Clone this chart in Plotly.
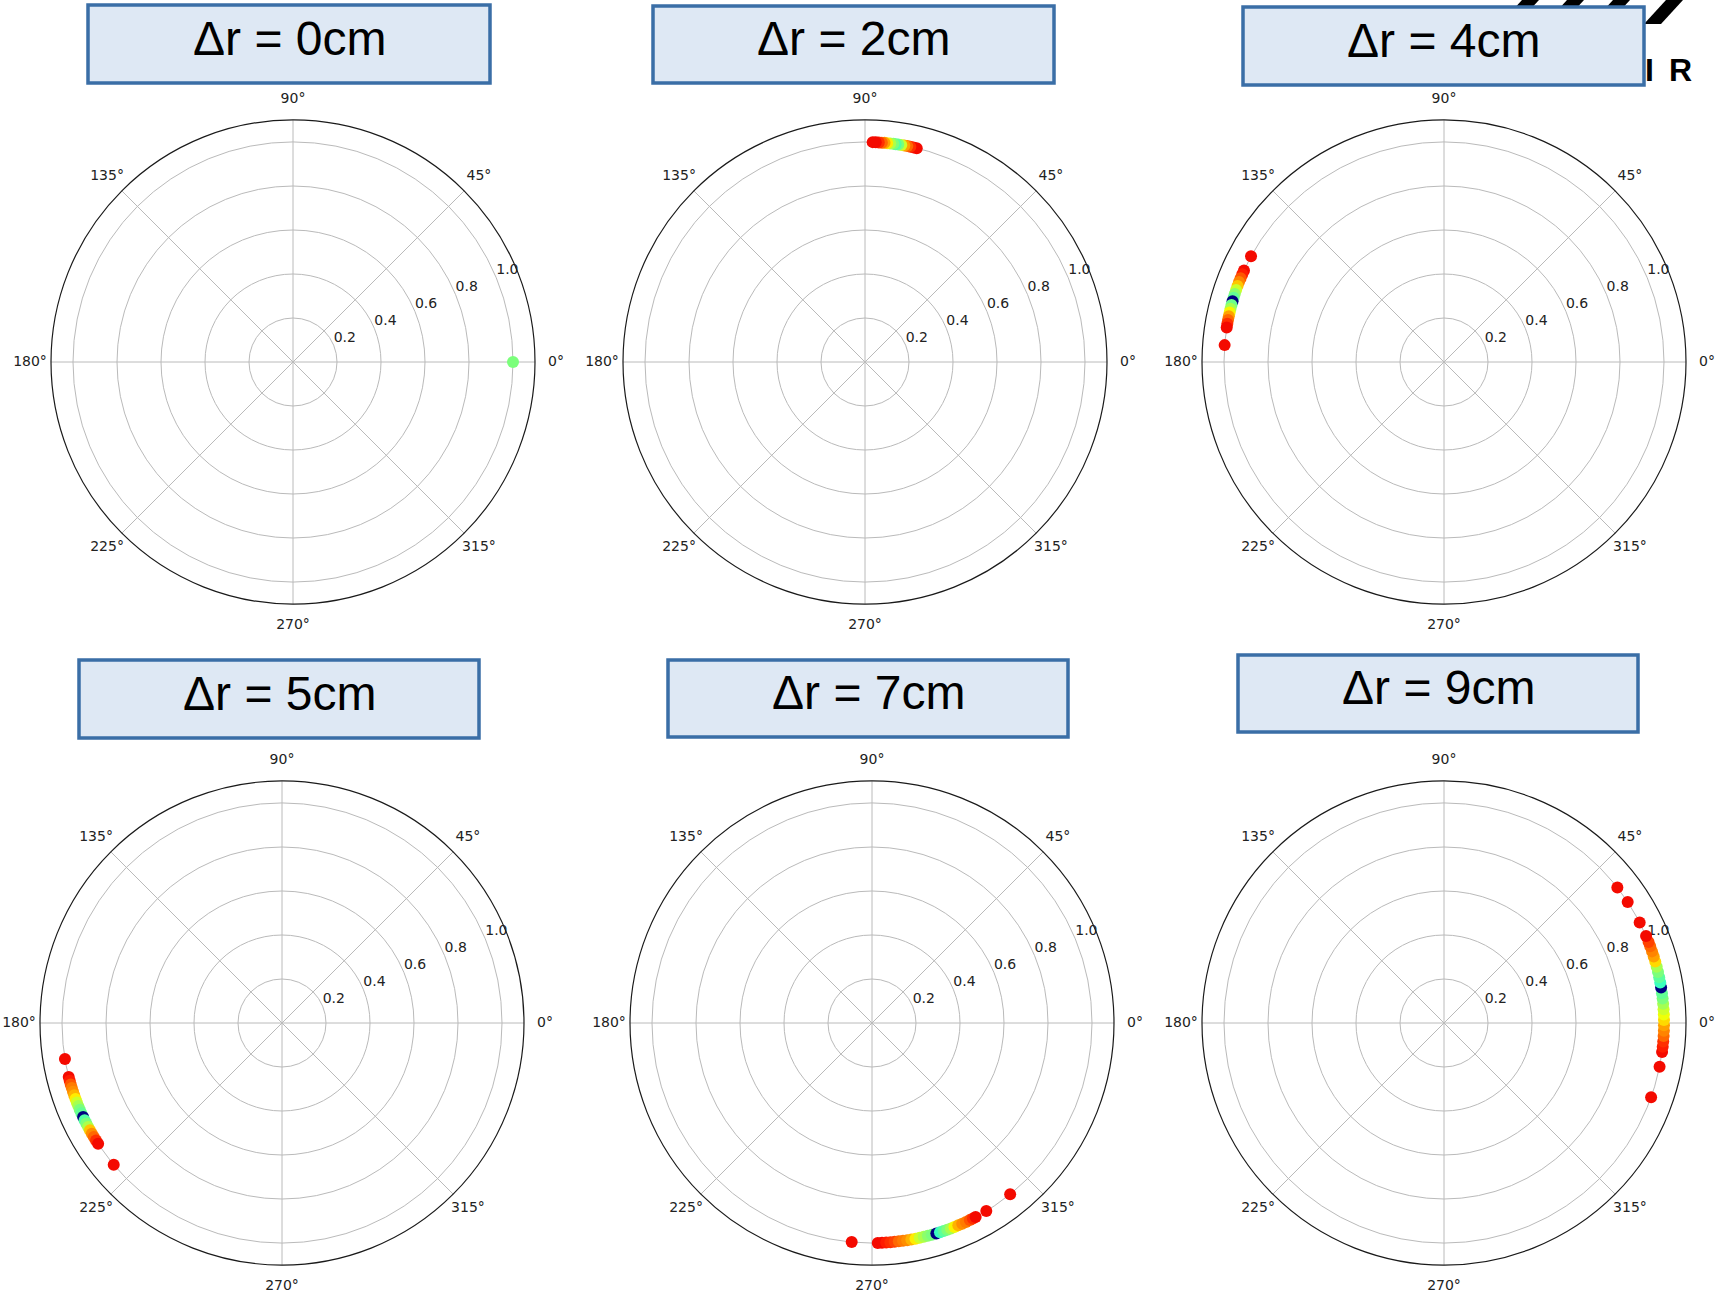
import numpy as np
import plotly.graph_objects as go

# ---------------------------------------------------------------- data
panel_titles = ["Δr = 0cm", "Δr = 2cm", "Δr = 4cm", "Δr = 5cm", "Δr = 7cm", "Δr = 9cm"]

# all estimates lie on the unit circle
RADIUS = 1.0

# direction estimates (degrees) and their colour level (jet position), in drawing order
theta_0cm = [0.0]
level_0cm = [0.5]

theta_2cm = [76.4, 77.3, 78.1, 78.9, 79.7, 80.5, 81.3, 82.0, 82.6, 83.4, 84.2, 84.9, 85.6, 86.4, 87.2, 88.0]
level_2cm = [0.9, 0.9, 0.86, 0.8, 0.74, 0.6, 0.5, 0.45, 0.5, 0.56, 0.66, 0.74, 0.8, 0.86, 0.9, 0.9]

theta_4cm = [151.3, 155.4, 156.5, 157.6, 158.7, 159.8, 160.9, 162.0, 163.0, 164.0,
             165.0, 166.0, 167.0, 168.0, 169.0, 170.0, 171.0, 175.6]
level_4cm = [0.9, 0.9, 0.88, 0.82, 0.77, 0.7, 0.6, 0.52, 0.47, 0.0,
             0.48, 0.55, 0.65, 0.74, 0.8, 0.86, 0.9, 0.9]

theta_5cm = [189.4, 194.2, 195.2, 196.2, 197.2, 198.2, 199.2, 200.2, 201.2, 202.2, 203.2,
             204.2, 205.3, 206.2, 207.2, 208.2, 209.2, 210.2, 211.2, 212.3, 213.3, 220.1]
level_5cm = [0.9, 0.9, 0.88, 0.82, 0.78, 0.76, 0.72, 0.66, 0.6, 0.55, 0.5,
             0.47, 0.0, 0.45, 0.5, 0.56, 0.7, 0.76, 0.8, 0.86, 0.9, 0.9]

theta_7cm = [264.7, 271.5, 272.6, 273.7, 274.8, 275.9, 277.0, 278.1, 279.2, 280.3, 281.4,
             282.5, 283.6, 284.7, 285.8, 287.0, 288.0, 289.0, 290.0, 291.0, 292.0, 293.1,
             294.2, 295.3, 296.4, 297.3, 298.1, 301.3, 308.9]
level_7cm = [0.9, 0.9, 0.9, 0.88, 0.86, 0.84, 0.8, 0.78, 0.76, 0.72, 0.66,
             0.6, 0.56, 0.52, 0.5, 0.0, 0.42, 0.46, 0.5, 0.55, 0.65, 0.72,
             0.76, 0.78, 0.82, 0.86, 0.9, 0.9, 0.9]

theta_9cm = [-19.7, -11.5, -7.6, -6.2, -4.8, -3.4, -2.0, -0.6, 0.8, 2.2, 3.6, 5.0, 6.4, 7.8,
             9.3, 10.6, 12.0, 13.4, 14.8, 16.2, 17.6, 19.0, 20.4, 21.6, 23.3, 27.2, 33.4, 38.0]
level_9cm = [0.9, 0.9, 0.9, 0.88, 0.86, 0.8, 0.77, 0.74, 0.68, 0.64, 0.6, 0.55, 0.5, 0.47,
             0.0, 0.42, 0.46, 0.5, 0.55, 0.68, 0.74, 0.77, 0.8, 0.84, 0.9, 0.9, 0.9, 0.9]

thetas = [theta_0cm, theta_2cm, theta_4cm, theta_5cm, theta_7cm, theta_9cm]
levels = [level_0cm, level_2cm, level_4cm, level_5cm, level_7cm, level_9cm]

r_ticks = [0.2, 0.4, 0.6, 0.8, 1.0]
r_ticklabels = ["0.2", "0.4", "0.6", "0.8", "1.0"]
r_label_angle = 22.5
angle_ticks = [0, 45, 90, 135, 180, 225, 270, 315]
angle_ticklabels = ["0°", "45°", "90°", "135°", "180°", "225°", "270°", "315°"]

# ---------------------------------------------------------------- layout geometry (pixels)
W, H = 1716, 1296
R_PX = 242          # radius of the polar frame
R_LABEL_PX = 263    # radius on which the angle labels are centred
R_MAX = 1.1
centers = [(293, 362), (865, 362), (1444, 362), (282, 1023), (872, 1023), (1444, 1023)]
boxes = [(88, 5, 490, 83), (653, 6, 1054, 83), (1243, 7, 1644, 85),
         (79, 660, 479, 738), (668, 660, 1068, 737), (1238, 655, 1638, 732)]


def px(x):
    return x / W


def py(y):
    return 1 - y / H


def domain(cx, cy, rad):
    return dict(x=[px(cx - rad), px(cx + rad)], y=[py(cy + rad), py(cy - rad)])


# matplotlib-style jet colour map
def jet_rgb(t):
    r = np.interp(t, [0, 0.35, 0.66, 0.89, 1.0], [0, 0, 1, 1, 0.5])
    g = np.interp(t, [0, 0.125, 0.375, 0.64, 0.91, 1.0], [0, 0, 1, 1, 0, 0])
    b = np.interp(t, [0, 0.11, 0.34, 0.65, 1.0], [0.5, 1, 1, 0, 0])
    return "rgb(%d,%d,%d)" % (round(r * 255), round(g * 255), round(b * 255))


jet_stops = [0, 0.11, 0.125, 0.34, 0.35, 0.375, 0.5, 0.64, 0.65, 0.66, 0.89, 0.91, 1.0]
JET = [[s, jet_rgb(s)] for s in jet_stops]

tick_font = dict(family="DejaVu Sans, Liberation Sans, sans-serif", size=14, color="#222222")
grid_color = "#bababa"

fig = go.Figure()
layout = dict(
    width=W, height=H,
    margin=dict(l=0, r=0, t=0, b=0),
    paper_bgcolor="white",
    plot_bgcolor="white",
    showlegend=False,
)

hidden_radial = dict(range=[0, 1], visible=False, showgrid=False, showline=False,
                     showticklabels=False, ticks="")
hidden_angular = dict(direction="counterclockwise", rotation=0, showgrid=False,
                      showline=False, showticklabels=False, ticks="")

for i, (cx, cy) in enumerate(centers):
    name = "polar" if i == 0 else "polar%d" % (i + 1)
    label_name = "polar%d" % (i + 7)
    layout[name] = dict(
        domain=domain(cx, cy, R_PX),
        bgcolor="white",
        radialaxis=dict(
            range=[0, R_MAX], tickvals=r_ticks, angle=r_label_angle,
            showline=False, ticks="", showticklabels=False,
            gridcolor=grid_color, gridwidth=1,
        ),
        angularaxis=dict(
            tickvals=angle_ticks, direction="counterclockwise", rotation=0,
            showline=True, linecolor="#1a1a1a", linewidth=1.2,
            gridcolor=grid_color, gridwidth=1, ticks="", showticklabels=False,
        ),
    )
    # transparent companion polar, slightly larger, carrying the centred angle labels
    layout[label_name] = dict(
        domain=domain(cx, cy, R_LABEL_PX),
        bgcolor="rgba(0,0,0,0)",
        radialaxis=hidden_radial,
        angularaxis=hidden_angular,
    )
    fig.add_trace(go.Scatterpolar(
        r=[1.0] * len(angle_ticks), theta=angle_ticks, mode="text",
        text=angle_ticklabels, textposition="middle center", textfont=tick_font,
        cliponaxis=False, subplot=label_name, hoverinfo="skip",
    ))
    # radial tick labels, horizontal, just beside each ring along the label ray
    fig.add_trace(go.Scatterpolar(
        r=r_ticks, theta=[r_label_angle] * len(r_ticks), mode="text",
        text=r_ticklabels, textposition="top right", textfont=tick_font,
        subplot=name, hoverinfo="skip",
    ))
    th = thetas[i]
    fig.add_trace(go.Scatterpolar(
        r=[RADIUS] * len(th), theta=th, mode="markers",
        marker=dict(size=12, color=levels[i], colorscale=JET, cmin=0, cmax=1,
                    line=dict(width=0)),
        subplot=name, hoverinfo="skip",
    ))

shapes = []
# logo fragment in the top-right corner (slanted bars)
for t in [1522, 1567, 1613, 1666]:
    pts = [(t - 22, 24), (t - 5, 24), (t + 17, 0), (t, 0)]
    path = "M " + " L ".join("%f,%f" % (px(x), py(y)) for x, y in pts) + " Z"
    shapes.append(dict(type="path", xref="paper", yref="paper", path=path,
                       fillcolor="black", line=dict(width=0), layer="above"))

logo_font = dict(family="Liberation Sans, Arial, sans-serif", size=32, color="black")
annotations = [
    dict(text="<b>I</b>", x=px(1649), y=py(70), xref="paper", yref="paper",
         showarrow=False, xanchor="center", yanchor="middle", font=logo_font),
    dict(text="<b>R</b>", x=px(1680), y=py(70), xref="paper", yref="paper",
         showarrow=False, xanchor="center", yanchor="middle", font=logo_font),
]

# title boxes
for (x0, y0, x1, y1), title in zip(boxes, panel_titles):
    shapes.append(dict(type="rect", xref="paper", yref="paper",
                       x0=px(x0), x1=px(x1), y0=py(y1), y1=py(y0),
                       fillcolor="rgb(222,232,244)",
                       line=dict(color="rgb(58,110,166)", width=3.5), layer="above"))
    annotations.append(dict(text=title, x=px((x0 + x1) / 2), y=py((y0 + y1) / 2),
                            xref="paper", yref="paper", showarrow=False,
                            xanchor="center", yanchor="middle", yshift=6,
                            font=dict(family="Liberation Sans, Arial, sans-serif",
                                      size=48, color="black")))

layout["shapes"] = shapes
layout["annotations"] = annotations
fig.update_layout(**layout)
fig.write_html("out.html")
